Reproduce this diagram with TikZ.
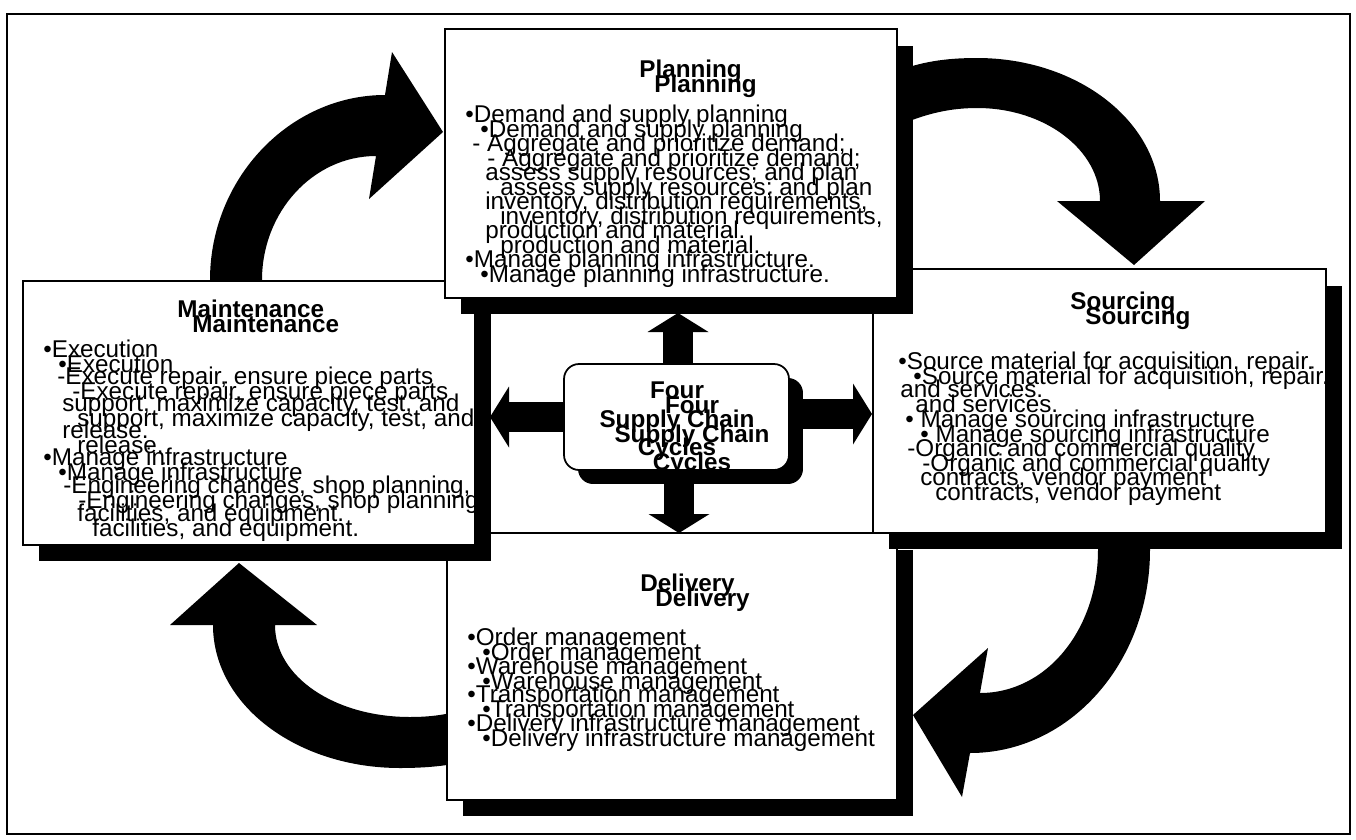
\documentclass[tikz,border=0pt]{standalone}
\usepackage{fontspec}
\setmainfont{Liberation Sans}
\usetikzlibrary{arrows.meta,shadows}
\newcommand\dtext[5]{%
  \node[#2] (#1a) at (#3,#4) {#5};
  \node[#2] (#1b) at ({#3+15},{#4+15}) {#5};}
\begin{document}
\begin{tikzpicture}[x=0.02cm,y=-0.02cm,
  box/.style={draw=black, line width=1pt, fill=white,
    general shadow={fill=black, shadow xshift=0.32cm, shadow yshift=-0.33cm}},
  cbox/.style={draw=black, line width=1pt, fill=white, rounded corners=0.3cm,
    general shadow={fill=black, shadow xshift=0.28cm, shadow yshift=-0.28cm}},
  txt/.style={anchor=base west, inner sep=0pt, font=\fontsize{13.8}{15}\selectfont},
  ttl/.style={anchor=base west, inner sep=0pt, font=\fontsize{13.8}{15}\selectfont\bfseries},
  ctl/.style={anchor=base, inner sep=0pt, font=\fontsize{13.8}{15}\selectfont\bfseries},
  hub/.style={line width=0.6cm, -{Triangle[length=0.38cm, width=1.22cm, line width=0pt]}},
  curved/.style={fill=black}]
\useasboundingbox (0,0) rectangle (1356,839);
\fill[white] (0,0) rectangle (1356,839);
% outer frame
\draw[line width=1.2pt] (7,14) rectangle (1350,834);

% big curved arrows
\fill[curved] (210,292) -- (210,280) .. controls (210,178) and (290,95) .. (385,95)
  -- (392,52) -- (443,132) -- (369,199) -- (376,156)
  .. controls (313,156) and (262,212) .. (262,280) -- (262,292) -- cycle;
\fill[curved] (895,72) .. controls (920,62) and (945,58) .. (977,58)
  .. controls (1078,58) and (1160,122) .. (1160,201) -- (1205,201) -- (1134,265)
  -- (1057,201) -- (1100,201) .. controls (1100,150) and (1045,108) .. (977,108)
  .. controls (945,108) and (920,116) .. (895,127) -- cycle;
\fill[curved] (1150,540) -- (1150,550) .. controls (1150,662) and (1070,753) .. (970,753)
  -- (962,797) -- (913,715) -- (988,648) -- (980,693)
  .. controls (1047,693) and (1098,629) .. (1098,550) -- (1098,540) -- cycle;
\fill[curved] (170,625) -- (239,563) -- (317,625) -- (275,625)
  .. controls (275,677) and (335,717) .. (410,717)
  .. controls (440,717) and (455,712) .. (470,708) -- (470,760)
  .. controls (450,766) and (425,768) .. (400,768)
  .. controls (297,768) and (213,705) .. (213,625) -- cycle;

% boxes
\node[box, minimum width=9cm, minimum height=5.34cm] (deliv) at (672,666.5) {};
\node[box, minimum width=9.06cm, minimum height=5.28cm] (sourc) at (1099.5,401) {};
\node[box, minimum width=9.04cm, minimum height=5.28cm] (maint) at (249,413) {};
\node[box, minimum width=9.04cm, minimum height=5.38cm] (plan) at (671,163.5) {};

% central arrows
\coordinate (hubc) at (676.5,417);
\coordinate (tU) at (678,313);
\coordinate (tD) at (679,533);
\coordinate (tL) at (490,417);
\coordinate (tR) at (872,414);
\draw[hub] (hubc -| tU) -- (tU);
\draw[hub] (hubc -| tD) -- (tD);
\draw[hub] (hubc |- tL) -- (tL);
\draw[hub] (hubc |- tR) -- (tR);
\node[cbox, minimum width=4.5cm, minimum height=2.12cm] (cyc) at (hubc) {};

% center text
\dtext{cf}{ctl}{677}{398}{Four}
\dtext{cs}{ctl}{677}{427}{Supply Chain}
\dtext{cc}{ctl}{677}{455}{Cycles}

% Planning text
\dtext{pt}{ttl}{639}{77}{Planning}
\dtext{p1}{txt}{465}{122}{•Demand and supply planning}
\dtext{p2}{txt}{472}{151}{- Aggregate and prioritize demand;}
\dtext{p3}{txt}{485}{180}{assess supply resources; and plan}
\dtext{p4}{txt}{485}{209}{inventory, distribution requirements,}
\dtext{p5}{txt}{485}{238}{production and material.}
\dtext{p6}{txt}{465}{267}{•Manage planning infrastructure.}

% Maintenance text
\dtext{mt}{ttl}{177}{317}{Maintenance}
\dtext{m1}{txt}{43}{357}{•Execution}
\dtext{m2}{txt}{57}{384}{-Execute repair, ensure piece parts}
\dtext{m3}{txt}{62}{411}{support, maximize capacity, test, and}
\dtext{m4}{txt}{62}{438}{release.}
\dtext{m5}{txt}{43}{465}{•Manage infrastructure}
\dtext{m6}{txt}{63}{493}{-Engineering changes, shop planning,}
\dtext{m7}{txt}{77}{521}{facilities, and equipment.}

% Sourcing text
\dtext{st}{ttl}{1070}{309}{Sourcing}
\dtext{s1}{txt}{898}{369}{•Source material for acquisition, repair.}
\dtext{s2}{txt}{900}{397}{and services.}
\dtext{s3}{txt}{905}{427}{• Manage sourcing infrastructure}
\dtext{s4}{txt}{907}{456}{-Organic and commercial quality}
\dtext{s5}{txt}{920}{485}{contracts, vendor payment}

% Delivery text
\dtext{dt}{ttl}{640}{591}{Delivery}
\dtext{d1}{txt}{467}{645}{•Order management}
\dtext{d2}{txt}{467}{674}{•Warehouse management}
\dtext{d3}{txt}{467}{702}{•Transportation management}
\dtext{d4}{txt}{467}{731}{•Delivery infrastructure management}
\end{tikzpicture}
\end{document}
